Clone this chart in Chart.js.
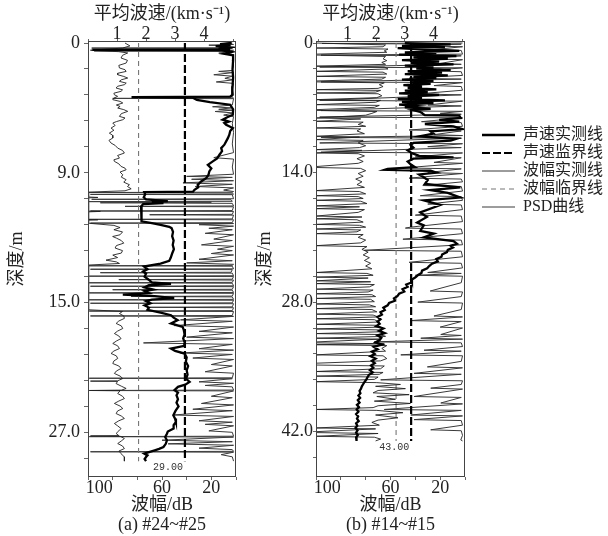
<!DOCTYPE html>
<html><head><meta charset="utf-8">
<script src="https://cdn.jsdelivr.net/npm/chart.js@4.4.1/dist/chart.umd.min.js"></script>
<style>
html,body{margin:0;padding:0;background:#fff;width:608px;height:536px;overflow:hidden}
canvas{position:absolute}
</style></head><body>
<canvas id="cA" width="250" height="536" style="left:0;top:0;width:250px;height:536px"></canvas>
<canvas id="cB" width="222" height="536" style="left:250px;top:0;width:222px;height:536px"></canvas>
<canvas id="cL" width="128" height="200" style="left:480px;top:125px;width:128px;height:200px"></canvas>
<script>
// ---------- DATA: panel (a)  [depth m, value] ----------
const velocityA = [[0.00,4.95],[0.08,4.55],[0.15,4.9],[0.22,4.4],[0.30,4.85],[0.38,4.5],[0.45,4.9],[0.48,0.15],[0.51,4.6],[0.62,4.95],[0.75,4.7],[0.85,5.0],[1.2,5.0],[1.8,4.98],[2.4,5.0],[3.0,4.98],[3.6,4.97],[3.72,4.9],[3.75,1.5],[3.78,3.6],[3.95,3.75],[4.1,4.2],[4.28,4.9],[4.6,5.0],[4.98,4.99],[5.15,4.8],[5.32,4.64],[5.45,4.85],[5.55,4.7],[5.67,4.76],[5.9,4.99],[6.1,4.9],[6.36,4.87],[6.6,4.82],[6.82,4.76],[7.05,4.7],[7.29,4.59],[7.5,4.62],[7.75,4.53],[8.0,4.45],[8.21,4.30],[8.45,4.13],[8.7,4.25],[8.91,4.18],[9.15,4.15],[9.37,4.07],[9.6,3.90],[9.84,3.78],[10.0,3.8],[10.18,3.67],[10.31,3.62],[10.34,1.94],[10.5,1.97],[10.7,1.92],[10.85,2.0],[10.96,2.75],[11.02,2.2],[11.1,2.6],[11.18,1.9],[11.33,1.83],[11.6,1.85],[11.9,1.83],[12.2,1.84],[12.37,1.86],[12.5,2.2],[12.61,2.5],[12.75,2.8],[12.84,2.88],[13.1,2.93],[13.4,2.9],[13.7,2.95],[14.0,2.92],[14.3,2.96],[14.6,2.9],[14.9,2.85],[15.1,2.8],[15.3,2.5],[15.5,1.93],[15.7,2.05],[15.85,1.9],[16.0,2.0],[16.2,1.95],[16.4,2.08],[16.6,2.2],[16.7,2.86],[16.8,2.1],[16.95,1.95],[17.1,2.25],[17.2,1.95],[17.35,2.1],[17.45,1.2],[17.55,2.3],[17.7,2.97],[17.8,2.2],[17.9,2.0],[18.05,2.15],[18.2,1.95],[18.35,2.1],[18.5,2.05],[18.7,2.5],[18.88,2.86],[19.05,2.95],[19.22,3.09],[19.45,2.86],[19.69,3.26],[19.9,3.3],[20.2,3.33],[20.5,3.28],[20.8,3.34],[21.0,3.32],[21.19,2.86],[21.35,3.0],[21.54,3.33],[21.8,3.4],[22.1,3.37],[22.4,3.45],[22.7,3.4],[23.0,3.43],[23.3,3.38],[23.5,3.5],[23.7,3.35],[23.85,3.1],[24.08,2.98],[24.25,3.1],[24.43,3.05],[24.7,3.1],[24.95,3.05],[25.2,3.12],[25.5,3.02],[25.82,2.94],[26.05,3.0],[26.28,3.03],[26.5,2.95],[26.74,2.95],[26.95,2.75],[27.1,2.72],[27.32,2.66],[27.55,2.72],[27.8,2.68],[28.02,2.6],[28.15,2.45],[28.25,2.3],[28.38,2.1],[28.48,1.94],[28.6,2.05],[28.71,2.0],[28.85,1.95],[29.0,2.0]];
const amplitudeA = [[0.0,90],[0.2,86],[0.35,92],[0.5,118],[0.6,95],[0.69,87.8],[0.85,92],[1.04,93.2],[1.2,88],[1.39,89.1],[1.55,95],[1.73,94.5],[1.85,90],[1.97,89.1],[2.1,96],[2.2,95.9],[2.32,91],[2.43,87.8],[2.55,93],[2.66,94.5],[2.78,89],[2.89,90.5],[3.0,96],[3.12,97.2],[3.25,92],[3.35,93.2],[3.48,99],[3.59,98.6],[3.7,96],[3.82,99],[3.93,99.9],[4.05,94],[4.16,91.8],[4.3,97],[4.4,94],[4.51,95.9],[4.62,91],[4.74,87.8],[4.9,93],[5.09,94.5],[5.2,90],[5.32,91.8],[5.45,97],[5.55,99.9],[5.72,98],[5.9,101.3],[6.05,99],[6.25,102.7],[6.4,100],[6.59,99.9],[6.75,103],[6.94,101.3],[7.1,98],[7.29,95.9],[7.45,92],[7.63,90.5],[7.8,96],[7.98,94.5],[8.1,99],[8.21,98.6],[8.38,95],[8.56,93.2],[8.68,90],[8.79,89.1],[8.95,94],[9.14,91.8],[9.3,93],[9.48,89.1],[9.65,91],[9.83,86.4],[9.95,88],[10.11,85.0],[10.25,90],[10.34,119.5],[10.68,119.5],[10.71,112],[10.74,119.5],[11.66,119.5],[11.68,110],[11.71,119.5],[12.24,119.5],[12.26,112],[12.29,119.5],[12.5,119.5],[12.65,99],[12.8,94],[12.95,99],[13.1,92],[13.3,94],[13.42,100],[13.53,97],[13.7,93],[13.88,91],[14.05,97],[14.22,98],[14.4,92],[14.57,93],[14.71,99.9],[14.88,96],[15.06,105.4],[15.18,97],[15.29,94.5],[15.4,119.5],[18.5,119.5],[18.62,92],[18.76,94.5],[18.93,91],[19.1,90.5],[19.28,95],[19.45,97.2],[19.62,93],[19.8,91.8],[19.98,96],[20.15,98.6],[20.32,95],[20.5,93.2],[20.67,97],[20.84,99.9],[21.0,96],[21.19,94.5],[21.36,99],[21.53,101.3],[21.7,97],[21.88,95.9],[22.05,99],[22.23,99.9],[22.4,95],[22.57,93.2],[22.75,97],[22.92,98.6],[23.1,94],[23.27,91.8],[23.43,96],[23.45,118],[23.47,96],[23.62,97.2],[23.8,93],[23.96,89.1],[24.08,93],[24.1,119],[24.12,94],[24.31,95.9],[24.5,92],[24.66,90.5],[24.83,95],[25.0,98.6],[25.18,94],[25.35,91.8],[25.52,96],[25.7,97.2],[25.87,93],[26.04,90.5],[26.2,95],[26.39,98.6],[26.55,96],[26.74,93.2],[26.9,95],[27.08,97.2],[27.23,95],[27.25,118],[27.27,94],[27.43,90.5],[27.6,93],[27.78,95.9],[27.95,92],[28.13,90.5],[28.3,95],[28.47,93.2],[28.6,92],[28.7,90.5],[29.0,90.5]];
const psdA = [[0.0,3],[0.05,12],[0.1,2],[0.15,22],[0.2,4],[0.26,9],[0.3,2],[0.33,3],[0.35,117],[0.37,3],[0.45,25],[0.5,2],[0.53,3],[0.55,115],[0.57,3],[0.7,14],[0.8,2],[1.2,3],[1.6,2],[1.9,3],[1.97,14],[2.05,2],[2.2,18],[2.3,3],[2.45,9],[2.55,2],[2.7,16],[2.8,2],[3.2,3],[3.6,2],[3.7,3],[3.72,84],[3.74,3],[3.82,2],[3.84,100],[3.86,2],[4.3,3],[4.42,19],[4.5,4],[4.6,14],[4.66,3],[4.75,17],[4.85,2],[5.0,10],[5.1,2],[5.6,3],[6.2,2],[7.0,3],[7.6,2],[7.95,18],[8.05,2],[8.6,3],[9.1,2],[9.25,40],[9.32,3],[9.45,36],[9.55,2],[9.7,43],[9.8,3],[9.95,33],[10.05,2],[10.2,10],[10.3,2],[10.34,3],[10.37,119],[10.4,3],[10.48,2],[10.5,118],[10.52,3],[10.8,2],[10.84,117],[10.87,4],[10.98,3],[11.0,119],[11.04,20],[11.08,110],[11.12,3],[11.3,2],[11.33,90],[11.36,2],[11.62,3],[11.65,118],[11.68,2],[11.88,3],[11.91,70],[11.94,2],[12.2,3],[12.23,119],[12.26,2],[12.46,3],[12.49,118],[12.52,2],[12.6,30],[12.7,2],[12.85,22],[12.95,3],[13.2,25],[13.3,2],[13.6,18],[13.7,3],[14.0,28],[14.1,2],[14.3,15],[14.4,3],[14.6,20],[14.7,2],[15.0,30],[15.1,3],[15.25,40],[15.35,2],[15.42,3],[15.45,119],[15.48,3],[15.66,2],[15.69,118],[15.72,3],[15.9,4],[15.93,110],[15.96,3],[16.14,2],[16.17,119],[16.2,2],[16.38,3],[16.41,95],[16.44,2],[16.6,3],[16.63,119],[16.66,3],[16.84,2],[16.87,118],[16.9,2],[17.08,3],[17.11,100],[17.14,3],[17.3,2],[17.33,119],[17.36,2],[17.55,3],[17.58,85],[17.61,3],[17.78,2],[17.81,119],[17.84,2],[18.02,3],[18.05,118],[18.08,2],[18.3,3],[18.33,70],[18.36,2],[18.56,3],[18.59,119],[18.62,2],[18.9,3],[18.93,118],[18.96,2],[19.2,45],[19.3,3],[19.6,50],[19.7,2],[20.0,30],[20.1,3],[20.4,40],[20.5,2],[20.8,75],[20.9,3],[21.2,30],[21.3,2],[21.5,45],[21.6,3],[21.85,35],[21.95,2],[22.3,20],[22.4,3],[22.8,25],[22.9,2],[23.22,3],[23.25,119],[23.28,3],[23.5,30],[23.6,2],[23.75,25],[23.85,3],[24.07,2],[24.1,118],[24.13,2],[24.5,20],[24.6,3],[25.0,28],[25.1,2],[25.4,35],[25.5,3],[25.8,51],[25.9,2],[26.2,30],[26.3,3],[26.45,25],[26.55,2],[26.9,22],[27.0,3],[27.27,2],[27.3,119],[27.33,2],[27.55,60],[27.65,3],[27.8,55],[27.9,2],[28.1,30],[28.2,3],[28.32,2],[28.35,118],[28.38,2],[28.55,12],[28.7,3],[29.0,2]];
const velLimitA = 3.34;      // km/s
const ampLimitA = 79;        // dB
const depthEndA = 29.0;      // m
const depthLabelsA = ['0','9.0','15.0','27.0'];

// ---------- DATA: panel (b) ----------
const velocityB = [[0.0,3.0],[0.15,4.6],[0.3,2.9],[0.45,4.4],[0.55,2.75],[0.7,3.7],[0.85,4.9],[1.0,3.0],[1.1,4.1],[1.25,2.8],[1.4,4.8],[1.55,3.3],[1.7,4.5],[1.85,2.9],[2.0,4.2],[2.15,3.2],[2.3,4.7],[2.45,3.0],[2.6,4.0],[2.75,3.4],[2.9,4.6],[3.05,3.1],[3.2,4.3],[3.35,3.0],[3.5,4.5],[3.65,3.3],[3.8,4.1],[3.95,2.9],[4.1,4.0],[4.25,3.2],[4.4,3.9],[4.55,2.95],[4.7,3.6],[4.85,3.1],[5.0,4.1],[5.15,3.0],[5.3,3.8],[5.45,2.8],[5.6,4.2],[5.75,3.1],[5.9,3.6],[6.05,2.75],[6.2,4.4],[6.35,2.9],[6.5,4.0],[6.65,2.8],[6.8,3.4],[6.95,3.0],[7.1,3.9],[7.25,3.3],[7.4,3.5],[7.55,3.6],[7.7,3.65],[7.8,3.7],[7.85,4.9],[8.1,4.95],[8.3,4.2],[8.5,4.9],[8.75,3.7],[9.0,4.7],[9.3,5.0],[9.55,3.9],[9.8,4.0],[10.1,3.5],[10.35,4.8],[10.55,4.6],[10.8,3.3],[11.0,3.2],[11.3,3.3],[11.6,3.1],[11.9,3.25],[12.2,3.5],[12.35,4.7],[12.5,3.3],[12.8,3.1],[13.1,3.2],[13.4,3.35],[13.6,2.4],[13.7,2.3],[13.8,3.9],[14.0,4.1],[14.2,3.5],[14.5,3.66],[14.8,3.8],[15.23,3.7],[15.6,4.94],[15.9,3.89],[16.2,4.5],[16.7,4.94],[17.0,3.66],[17.5,4.24],[18.3,3.54],[18.8,3.77],[19.4,3.43],[19.7,3.66],[20.3,3.54],[20.6,4.01],[21.0,3.66],[21.4,4.70],[21.7,4.82],[21.9,4.6],[22.1,4.68],[22.35,4.5],[22.6,4.47],[22.85,4.3],[23.1,4.28],[23.35,4.1],[23.6,4.15],[23.85,3.95],[24.1,3.85],[24.35,3.78],[24.6,3.6],[24.85,3.58],[25.1,3.45],[25.35,3.36],[25.6,3.22],[25.85,3.25],[26.1,3.05],[26.35,3.1],[26.6,2.92],[26.85,2.98],[27.1,2.8],[27.35,2.74],[27.6,2.62],[27.85,2.66],[28.1,2.45],[28.35,2.4],[28.6,2.25],[28.85,2.3],[29.1,2.15],[29.35,2.2],[29.6,2.05],[29.85,2.15],[30.1,2.05],[30.35,2.12],[30.6,2.0],[30.85,2.25],[31.1,2.1],[31.35,2.3],[31.6,2.05],[31.85,2.18],[32.1,2.12],[32.35,1.98],[32.6,2.2],[32.85,1.92],[33.1,2.05],[33.35,1.85],[33.6,1.95],[33.85,1.8],[34.1,1.98],[34.35,1.85],[34.6,1.95],[34.85,1.82],[35.1,1.9],[35.35,1.78],[35.6,1.88],[35.85,1.75],[36.1,1.7],[36.35,1.66],[36.6,1.6],[36.85,1.55],[37.1,1.5],[37.35,1.47],[37.6,1.42],[37.85,1.45],[38.1,1.38],[38.35,1.44],[38.6,1.36],[38.85,1.42],[39.1,1.33],[39.35,1.4],[39.6,1.32],[39.85,1.38],[40.1,1.3],[40.35,1.37],[40.6,1.33],[40.85,1.39],[41.1,1.3],[41.35,1.34],[41.6,1.28],[41.85,1.35],[42.1,1.3],[42.35,1.36],[42.6,1.3],[42.85,1.33],[43.0,1.3]];
const amplitudeB = [[0.0,120],[0.2,64],[0.4,66],[0.54,120],[0.65,62],[0.85,65],[1.0,63],[1.2,120],[1.3,120],[1.45,64],[1.7,66],[1.9,63],[2.1,67],[2.3,64],[2.5,120],[2.6,65],[2.8,62],[3.06,120],[3.15,66],[3.35,63],[3.6,120],[3.7,64],[3.9,67],[4.1,120],[4.2,120],[4.3,65],[4.5,69],[4.7,66],[4.9,70],[5.04,120],[5.12,68],[5.3,72],[5.4,120],[5.48,70],[5.7,67],[5.9,71],[6.12,120],[6.2,68],[6.4,72],[6.66,120],[6.74,69],[6.95,73],[7.2,120],[7.28,120],[7.4,71],[7.6,75],[7.8,80],[8.1,120],[8.2,84],[8.46,120],[8.55,82],[8.8,86],[9.0,80],[9.18,120],[9.28,84],[9.5,87],[9.8,81],[10.08,120],[10.16,85],[10.44,120],[10.52,82],[10.8,86],[11.1,80],[11.3,85],[11.52,120],[11.6,83],[11.88,120],[11.96,86],[12.2,81],[12.5,87],[12.8,82],[13.0,86],[13.35,120],[13.45,120],[13.55,84],[13.8,80],[14.1,86],[14.4,82],[14.7,88],[15.0,83],[15.3,87],[15.6,81],[15.95,120],[16.05,85],[16.3,80],[16.5,120],[16.6,86],[16.8,82],[17.0,120],[17.1,84],[17.35,79],[17.6,120],[17.7,85],[17.9,120],[18.0,81],[18.3,86],[18.7,120],[18.8,83],[19.0,120],[19.1,87],[19.35,82],[19.6,120],[19.7,85],[19.9,80],[20.1,120],[20.2,84],[20.4,87],[20.6,120],[20.7,82],[21.0,86],[21.3,80],[21.6,84],[21.9,120],[22.0,79],[22.3,83],[22.6,78],[22.9,82],[23.2,77],[23.5,81],[23.8,76],[24.1,80],[24.4,75],[24.8,120],[24.9,79],[25.1,74],[25.3,120],[25.4,78],[25.7,120],[25.8,76],[26.0,120],[26.1,73],[26.35,77],[26.6,120],[26.7,74],[26.9,78],[27.1,120],[27.2,75],[27.4,72],[27.6,120],[27.7,76],[27.95,73],[28.2,120],[28.3,77],[28.5,72],[28.7,120],[28.8,75],[29.05,71],[29.3,120],[29.4,74],[29.6,70],[29.8,120],[29.9,73],[30.15,69],[30.4,120],[30.5,72],[30.7,68],[30.9,120],[31.0,70],[31.2,66],[31.4,120],[31.5,69],[31.7,64],[31.9,120],[32.0,68],[32.3,120],[32.4,120],[32.5,65],[32.6,120],[32.7,63],[33.0,67],[33.3,64],[33.7,120],[33.8,66],[34.1,63],[34.35,68],[34.6,120],[34.7,120],[34.8,120],[34.9,65],[35.2,68],[35.5,120],[35.6,66],[35.8,69],[36.0,120],[36.1,70],[36.35,73],[36.6,120],[36.7,71],[36.9,52],[37.1,72],[37.35,48],[37.55,70],[37.8,74],[38.0,45],[38.2,71],[38.5,56],[38.7,73],[38.95,44],[39.2,70],[39.4,74],[39.6,120],[39.7,71],[39.95,50],[40.2,72],[40.5,54],[40.75,70],[41.0,75],[41.3,69],[41.6,120],[41.7,72],[42.0,120],[42.1,120],[42.2,70],[42.5,120],[42.6,73],[42.8,68],[43.0,72]];
const psdB = [[0.0,2],[0.05,115],[0.12,3],[0.3,40],[0.4,2],[0.7,25],[0.8,3],[1.2,2],[1.3,116],[1.38,3],[1.7,35],[1.8,2],[2.2,20],[2.3,3],[2.6,117],[2.68,2],[3.0,30],[3.1,3],[3.5,2],[3.8,45],[3.9,3],[4.2,116],[4.28,2],[4.6,25],[4.7,3],[5.1,2],[5.5,38],[5.6,3],[6.2,117],[6.28,2],[6.7,30],[6.8,3],[7.3,116],[7.38,2],[7.6,20],[7.7,3],[8.0,117],[8.08,2],[8.5,35],[8.6,3],[9.0,2],[9.4,45],[9.5,3],[9.9,25],[10.0,2],[10.2,116],[10.28,3],[10.8,117],[10.88,2],[11.2,30],[11.3,3],[11.8,116],[11.88,2],[12.3,40],[12.4,3],[12.9,25],[13.0,2],[13.5,50],[13.6,3],[14.0,30],[14.1,2],[14.6,45],[14.7,3],[15.0,2],[15.4,34],[15.5,3],[16.0,2],[16.5,36],[16.6,3],[17.0,2],[17.4,30],[17.5,3],[18.0,2],[18.6,40],[18.7,3],[19.3,2],[19.9,44],[20.0,48],[20.1,3],[20.6,2],[21.2,50],[21.3,3],[21.8,2],[22.4,81],[22.5,3],[23.1,2],[23.7,45],[23.8,3],[24.3,2],[24.8,30],[24.9,3],[25.1,40],[25.2,2],[25.9,3],[26.8,28],[26.9,2],[27.4,3],[28.0,38],[28.1,2],[28.8,3],[29.5,25],[29.6,2],[30.0,44],[30.1,3],[30.7,20],[30.8,2],[31.5,19.5],[31.6,3],[31.9,35.6],[32.0,2],[32.3,73],[32.4,3],[32.8,2],[33.2,33],[33.3,3],[33.7,51.7],[33.8,2],[34.4,3],[35.0,30.3],[35.1,2],[35.7,41],[35.8,3],[36.4,67.9],[36.5,2],[36.9,3],[37.3,27.6],[37.4,2],[38.2,41],[38.3,3],[38.9,19.5],[39.0,2],[39.6,65],[39.7,3],[40.2,43.7],[40.3,2],[40.7,41],[40.8,3],[41.3,2],[41.8,27.6],[41.9,3],[42.4,2],[42.9,3.4],[43.0,2]];
const velLimitB = 3.22;
const ampLimitB = 55.5;
const depthEndB = 43.0;
const depthLabelsB = ['0','14.0','28.0','42.0'];

// ---------- shared axis / legend text ----------
const velTicks = [0,1,2,3,4,5];
const velTickLabels = [1,2,3,4];
const ampTicks = [120,100,80,60,40,20,0];
const ampTickLabels = [100,60,20];
const seriesNames = ['声速实测线','声速监界线','波幅实测线','波幅临界线','PSD曲线'];

// ---------- styles ----------
const FONT = '"Liberation Serif","Noto Sans CJK SC",serif';
Chart.defaults.font.family = FONT;
Chart.defaults.color = '#222';
const STYLES = [
  {borderColor:'#000', borderWidth:2.3, borderDash:[]},
  {borderColor:'#000', borderWidth:2.2, borderDash:[8,3]},
  {borderColor:'#222', borderWidth:0.9, borderDash:[]},
  {borderColor:'#777', borderWidth:1.1, borderDash:[5,4]},
  {borderColor:'#3a3a3a', borderWidth:1.0, borderDash:[]}
];

const framePlugin = {
  id:'frame',
  afterDatasetsDraw(chart){
    const {ctx, chartArea:a} = chart;
    ctx.save(); ctx.strokeStyle='#444'; ctx.lineWidth=1;
    ctx.strokeRect(Math.round(a.left)+0.5, Math.round(a.top)+0.5, Math.round(a.right-a.left)-1, Math.round(a.bottom-a.top)-1);
    ctx.restore();
  }
};
const endLabelPlugin = {
  id:'endLabel',
  afterDatasetsDraw(chart, args, opts){
    const {ctx} = chart;
    const x = chart.scales.xv.getPixelForValue(opts.vel) - 2;
    const y = chart.scales.y.getPixelForValue(opts.depth) + 1;
    ctx.save(); ctx.font = '10px "Liberation Mono",monospace'; ctx.fillStyle='#333';
    ctx.textAlign='right'; ctx.textBaseline='top';
    ctx.fillText(opts.depth.toFixed(2), x, y);
    ctx.restore();
  }
};

function panel(id, p){
  const xy = arr => arr.map(([d,v]) => ({x:v, y:d}));
  const vline = v => [{x:v, y:0}, {x:v, y:p.depthEnd}];
  const seriesData = [xy(p.vel), vline(p.velLimit), xy(p.amp), vline(p.ampLimit), xy(p.psd)];
  const axisIds = ['xv','xv','xa','xa','xa'];
  const depthTicks = Array.from({length:17}, (_, i) => i * p.step);
  new Chart(document.getElementById(id), {
    type:'scatter',
    data:{datasets: seriesNames.map((n,i) => Object.assign({
      label:n, data:seriesData[i], xAxisID:axisIds[i], yAxisID:'y',
      showLine:true, pointRadius:0, pointHoverRadius:0, tension:0, fill:false
    }, STYLES[i]))},
    options:{
      responsive:false, animation:false, events:[],
      layout:{padding:{left:0, right:p.padRight, top:0, bottom:1}},
      plugins:{legend:{display:false}, tooltip:{enabled:false},
               endLabel:{vel:p.velLimit, depth:p.depthEnd}},
      scales:{
        y:{type:'linear', position:'left', reverse:true, min:p.yMin, max:p.yMax,
           afterBuildTicks: s => { s.ticks = depthTicks.map(v => ({value:v})); },
           ticks:{autoSkip:false, padding:p.yTickPad, font:{size:18, lineHeight:1}, color:'#222',
                  callback:(v,i) => i % 5 === 0 ? p.depthLabels[i/5] : ''},
           grid:{drawOnChartArea:false, tickLength:p.yTickLen, color:'#666'},
           border:{display:false},
           title:{display:true, text:'深度/m', font:{size:18}, color:'#222', padding:{top:p.yTitlePad, bottom:0}},
           afterFit: s => { s.width = p.yWidth; }
        },
        xv:{type:'linear', position:'top', min:p.vMin, max:5.1,
           afterBuildTicks: s => { s.ticks = velTicks.map(v => ({value:v})); },
           ticks:{autoSkip:false, maxRotation:0, padding:-4, font:{size:18, lineHeight:1}, color:'#222',
                  callback: v => velTickLabels.includes(v) ? String(v) : ''},
           grid:{drawOnChartArea:false, tickLength:2, color:'#666'},
           border:{display:false},
           title:{display:true, text:'平均波速/(km·s⁻¹)', font:{size:18}, color:'#222', padding:{top:3, bottom:0}},
           afterFit: s => { s.height = 41; }
        },
        xa:{type:'linear', position:'bottom', reverse:true, min:0, max:120,
           afterBuildTicks: s => { s.ticks = ampTicks.map(v => ({value:v})); },
           ticks:{autoSkip:false, maxRotation:0, padding:-1, font:{size:18, lineHeight:1}, color:'#222',
                  callback: v => ampTickLabels.includes(v) ? (v === 100 ? '100\u2002\u2002\u2002' : String(v)) : ''},
           grid:{drawOnChartArea:false, tickLength:3, color:'#666'},
           border:{display:false},
           title:{display:true, text:['波幅/dB', p.caption], font:{size:18, lineHeight:1.1}, color:'#222', padding:{top:0, bottom:0}},
           afterFit: s => { s.height = 58; }
        }
      }
    },
    plugins:[framePlugin, endLabelPlugin]
  });
}

panel('cA', {vel:velocityA, amp:amplitudeA, psd:psdA, velLimit:velLimitA, ampLimit:ampLimitA,
  depthEnd:depthEndA, depthLabels:depthLabelsA, step:1.8, yMin:-0.14, yMax:30.1, vMin:0,
  padRight:14, yWidth:88, yTickLen:4, yTickPad:4, yTitlePad:6, caption:'(a) #24~#25'});
panel('cB', {vel:velocityB, amp:amplitudeB, psd:psdB, velLimit:velLimitB, ampLimit:ampLimitB,
  depthEnd:depthEndB, depthLabels:depthLabelsB, step:2.8, yMin:-0.22, yMax:46.9, vMin:-0.1,
  padRight:7, yWidth:66, yTickLen:3, yTickPad:0, yTitlePad:4, caption:'(b) #14~#15'});

// legend (line samples carry each series' own width and dash)
new Chart(document.getElementById('cL'), {
  type:'line',
  data:{labels:[], datasets: seriesNames.map((n,i) => Object.assign({label:n, data:[]}, STYLES[i]))},
  options:{
    responsive:false, animation:false, events:[],
    layout:{padding:0},
    scales:{x:{display:false}, y:{display:false}},
    plugins:{tooltip:{enabled:false},
      legend:{display:true, position:'top', align:'start',
        labels:{usePointStyle:true, pointStyle:'line', pointStyleWidth:33, boxHeight:16,
                font:{size:16, family:FONT}, color:'#222', padding:2,
                generateLabels: () => seriesNames.map((n,i) => ({
                  text:n, datasetIndex:i, hidden:false, pointStyle:'line', rotation:0,
                  strokeStyle:STYLES[i].borderColor, fillStyle:STYLES[i].borderColor,
                  lineWidth:STYLES[i].borderWidth, lineDash:STYLES[i].borderDash, lineCap:'butt',
                  fontColor:'#222'}))}}}
  }
});
</script>
</body></html>
